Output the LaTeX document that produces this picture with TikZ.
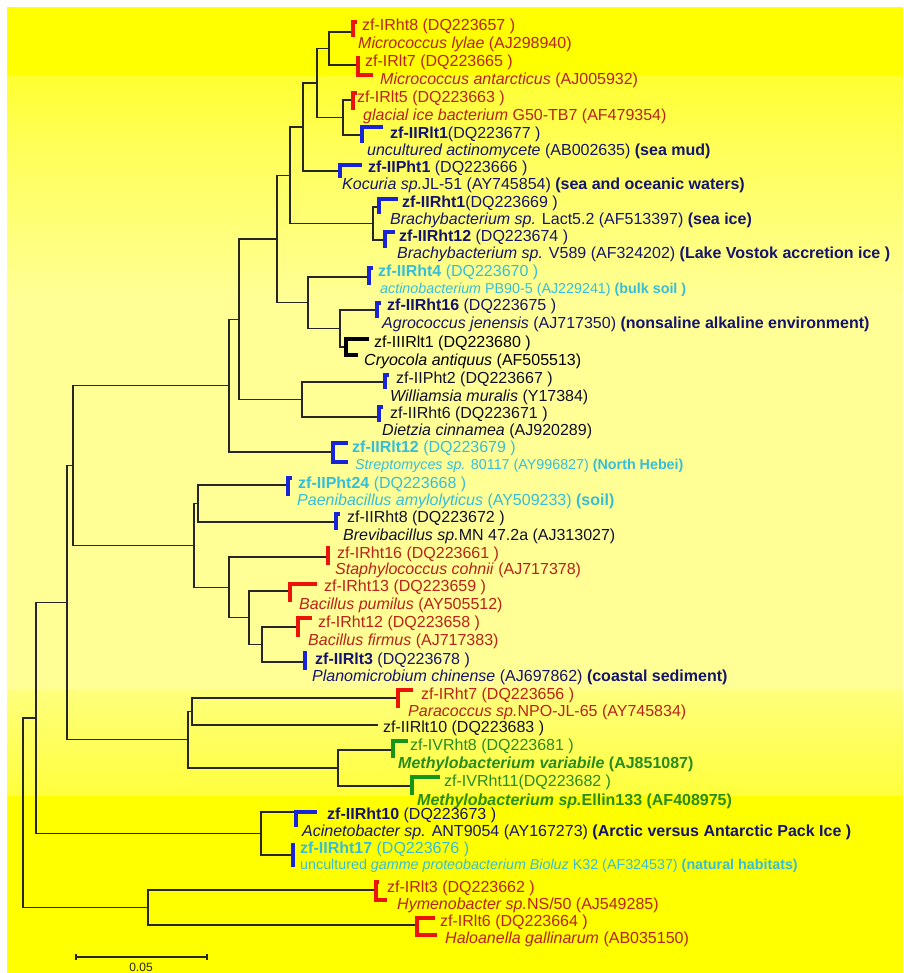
\documentclass[tikz,border=0pt]{standalone}
\usepackage{fontspec}
\setmainfont{Liberation Sans}
\definecolor{rtxt}{RGB}{185,35,25}
\definecolor{rbr}{RGB}{235,20,10}
\definecolor{btxt}{RGB}{20,20,110}
\definecolor{bbr}{RGB}{25,35,215}
\definecolor{ctxt}{RGB}{55,190,215}
\definecolor{gtxt}{RGB}{40,140,30}
\definecolor{gbr}{RGB}{20,150,20}
\definecolor{ktxt}{RGB}{15,15,45}
\definecolor{yA}{RGB}{255,255,0}
\definecolor{yB}{RGB}{255,255,50}
\definecolor{yC}{RGB}{255,255,90}
\definecolor{yD}{RGB}{255,255,150}
\definecolor{yE}{RGB}{255,255,125}
\definecolor{yF}{RGB}{255,255,60}
\begin{document}
\begin{tikzpicture}[x=1pt,y=-1pt,
  tree/.style={line width=1.3pt, draw=black!85},
  brk/.style={line width=3.6pt},
  lbl/.style={anchor=base west, inner sep=0pt, yshift=-5.5pt, font=\fontsize{16}{18}\selectfont},
  lbs/.style={lbl, font=\fontsize{14.3}{16}\selectfont}
]
\useasboundingbox (0,0) rectangle (903,973);
\fill[white] (0,0) rectangle (903,973);
\fill[yA] (7,7) rectangle (903,76);
\shade[top color=yB, bottom color=yC] (7,76) rectangle (903,150);
\shade[top color=yC, bottom color=yD] (7,150) rectangle (903,300);
\fill[yD] (7,300) rectangle (903,690);
\shade[top color=yE, bottom color=yF] (7,690) rectangle (903,796);
\fill[yA] (7,796) rectangle (903,973);

% leaf tips
\coordinate (t1) at (352,32);   \coordinate (t2) at (358,65);
\coordinate (t3) at (353,100);  \coordinate (t4) at (362,135);
\coordinate (t5) at (340,171);  \coordinate (t6) at (379,207);
\coordinate (t7) at (385,240);  \coordinate (t8) at (369,277);
\coordinate (t9) at (377,310);  \coordinate (t10) at (346,347);
\coordinate (t11) at (385,382); \coordinate (t12) at (379,417);
\coordinate (t13) at (333,452); \coordinate (t14) at (288,485);
\coordinate (t15) at (336,522); \coordinate (t16) at (328,557);
\coordinate (t17) at (290,591); \coordinate (t18) at (298,627);
\coordinate (t19) at (305,662); \coordinate (t20) at (398,698);
\coordinate (t21) at (378,725); \coordinate (t22) at (393,750);
\coordinate (t23) at (412,786); \coordinate (t24) at (296,812);
\coordinate (t25) at (293,855); \coordinate (t26) at (376,890);
\coordinate (t27) at (417,925);
% internal nodes
\coordinate (root) at (23,812.8);
\coordinate (nA) at (36,718.05);
\coordinate (nB) at (67,602.6);
\coordinate (nC) at (73,465.5);
\coordinate (nD) at (229,385.6);
\coordinate (nE) at (239,319.25);
\coordinate (nF) at (277,239);
\coordinate (nG) at (290,175.25);
\coordinate (nH) at (303,127);
\coordinate (nI) at (317,83);
\coordinate (nJ) at (329,48.5);
\coordinate (nK) at (343,117.5);
\coordinate (nL) at (373,223.5);
\coordinate (nM) at (308,302.75);
\coordinate (nN) at (340,328.5);
\coordinate (nO) at (302,399.5);
\coordinate (nP) at (194,545.4);
\coordinate (nQ) at (198,503.5);
\coordinate (nR) at (229,587.4);
\coordinate (nS) at (249,617.75);
\coordinate (nT) at (262,644.5);
\coordinate (nU) at (188,739.75);
\coordinate (nV) at (192,711.5);
\coordinate (nW) at (338,768);
\coordinate (nX) at (261,833.5);
\coordinate (nY) at (148,907.5);

\foreach \p/\c in {root/nA,root/nY,nA/nB,nA/nX,nB/nC,nB/nU,nC/nD,nC/nP,
  nD/nE,nD/t13,nE/nF,nE/nO,nF/nG,nF/nM,nG/nH,nG/nL,nH/nI,nH/t5,nI/nJ,nI/nK,
  nJ/t1,nJ/t2,nK/t3,nK/t4,nL/t6,nL/t7,nM/t8,nM/nN,nN/t9,nN/t10,nO/t11,nO/t12,
  nP/nQ,nP/nR,nQ/t14,nQ/t15,nR/t16,nR/nS,nS/t17,nS/nT,nT/t18,nT/t19,
  nU/nV,nU/nW,nV/t20,nV/t21,nW/t22,nW/t23,nX/t24,nX/t25,nY/t26,nY/t27}
  \draw[tree] (\p) |- (\c);

% tip brackets
\draw[brk,rbr] (357,22) -- (353,22) -- (353,37);
\draw[brk,rbr] (360,58) -- (358,58) -- (358,75) -- (373,75);
\draw[brk,rbr] (357,93) -- (353,93) -- (353,110);
\draw[brk,bbr] (383,127) -- (362,127) -- (362,143);
\draw[brk,bbr] (362,165) -- (340,165) -- (340,178);
\draw[brk,bbr] (398,199) -- (379,199) -- (379,214);
\draw[brk,bbr] (395,232) -- (385,232) -- (385,248);
\draw[brk,bbr] (373,268) -- (369,268) -- (369,285);
\draw[brk,bbr] (381,303) -- (377,303) -- (377,318);
\draw[brk,black] (369,339) -- (346,339) -- (346,355) -- (358,355);
\draw[brk,bbr] (389,375) -- (385,375) -- (385,389);
\draw[brk,bbr] (383,407) -- (379,407) -- (379,422);
\draw[brk,bbr] (348,443) -- (333,443) -- (333,462) -- (348,462);
\draw[brk,bbr] (292,478) -- (288,478) -- (288,496);
\draw[brk,bbr] (340,514) -- (336,514) -- (336,530);
\draw[brk,rbr] (330,548) -- (328,548) -- (328,565);
\draw[brk,rbr] (317,584) -- (290,584) -- (290,602);
\draw[brk,rbr] (312,618) -- (298,618) -- (298,637);
\draw[brk,bbr] (307,653) -- (305,653) -- (305,670);
\draw[brk,rbr] (413,690) -- (398,690) -- (398,708);
\draw[brk,gbr] (408,741) -- (393,741) -- (393,758);
\draw[brk,gbr] (440,777) -- (412,777) -- (412,795);
\draw[brk,bbr] (317,812) -- (296,812) -- (296,827);
\draw[brk,bbr] (295,845) -- (293,845) -- (293,867);
\draw[brk,rbr] (379,882) -- (376,882) -- (376,900) -- (387,900);
\draw[brk,rbr] (435,918) -- (417,918) -- (417,935) -- (437,935);

% labels
\node[lbl,text=rtxt] (l1a) at (362,25) {zf-IRht8 (DQ223657 )};
\node[lbl,text=rtxt] (l1b) at (358,43) {\textit{Micrococcus lylae} (AJ298940)};
\node[lbl,text=rtxt] (l2a) at (365,61) {zf-IRlt7 (DQ223665 )};
\node[lbl,text=rtxt] (l2b) at (380,79) {\textit{Micrococcus antarcticus} (AJ005932)};
\node[lbl,text=rtxt] (l3a) at (357,97) {zf-IRlt5 (DQ223663 )};
\node[lbl,text=rtxt] (l3b) at (363,115) {\textit{glacial ice bacterium} G50-TB7 (AF479354)};
\node[lbl,text=btxt] (l4a) at (390,133) {\textbf{zf-IIRlt1}(DQ223677 )};
\node[lbl,text=btxt] (l4b) at (367,150) {\textit{uncultured actinomycete} (AB002635) \textbf{(sea mud)}};
\node[lbl,text=btxt] (l5a) at (368,167) {\textbf{zf-IIPht1} (DQ223666 )};
\node[lbl,text=btxt] (l5b) at (342,184) {\textit{Kocuria sp.}JL-51 (AY745854) \textbf{(sea and oceanic waters)}};
\node[lbl,text=btxt] (l6a) at (402,202) {\textbf{zf-IIRht1}(DQ223669 )};
\node[lbl,text=btxt] (l6b) at (390,219) {\textit{Brachybacterium sp.} Lact5.2 (AF513397) \textbf{(sea ice)}};
\node[lbl,text=btxt] (l7a) at (399,236) {\textbf{zf-IIRht12} (DQ223674 )};
\node[lbl,text=btxt] (l7b) at (397,253) {\textit{Brachybacterium sp.} V589 (AF324202) \textbf{(Lake Vostok accretion ice )}};
\node[lbl,text=ctxt] (l8a) at (378,271) {\textbf{zf-IIRht4} (DQ223670 )};
\node[lbs,text=ctxt] (l8b) at (380,288) {\textit{actinobacterium} PB90-5 (AJ229241) \textbf{(bulk soil )}};
\node[lbl,text=btxt] (l9a) at (387,305) {\textbf{zf-IIRht16} (DQ223675 )};
\node[lbl,text=btxt] (l9b) at (382,323) {\textit{Agrococcus jenensis} (AJ717350) \textbf{(nonsaline alkaline environment)}};
\node[lbl,text=black] (l10a) at (374,342) {zf-IIIRlt1 (DQ223680 )};
\node[lbl,text=black] (l10b) at (364,360) {\textit{Cryocola antiquus} (AF505513)};
\node[lbl,text=ktxt] (l11a) at (396,378) {zf-IIPht2 (DQ223667 )};
\node[lbl,text=ktxt] (l11b) at (390,396) {\textit{Williamsia muralis} (Y17384)};
\node[lbl,text=ktxt] (l12a) at (390,413) {zf-IIRht6 (DQ223671 )};
\node[lbl,text=ktxt] (l12b) at (382,430) {\textit{Dietzia cinnamea} (AJ920289)};
\node[lbl,text=ctxt] (l13a) at (352,447) {\textbf{zf-IIRlt12} (DQ223679 )};
\node[lbs,text=ctxt] (l13b) at (355,464) {\textit{Streptomyces sp.} 80117 (AY996827) \textbf{(North Hebei)}};
\node[lbl,text=ctxt] (l14a) at (298,483) {\textbf{zf-IIPht24} (DQ223668 )};
\node[lbl,text=ctxt] (l14b) at (297,500) {\textit{Paenibacillus amylolyticus} (AY509233) \textbf{(soil)}};
\node[lbl,text=ktxt] (l15a) at (347,517) {zf-IIRht8 (DQ223672 )};
\node[lbl,text=ktxt] (l15b) at (343,535) {\textit{Brevibacillus sp.}MN 47.2a (AJ313027)};
\node[lbl,text=rtxt] (l16a) at (337,553) {zf-IRht16 (DQ223661 )};
\node[lbl,text=rtxt] (l16b) at (335,569) {\textit{Staphylococcus cohnii} (AJ717378)};
\node[lbl,text=rtxt] (l17a) at (324,586) {zf-IRht13 (DQ223659 )};
\node[lbl,text=rtxt] (l17b) at (299,604) {\textit{Bacillus pumilus} (AY505512)};
\node[lbl,text=rtxt] (l18a) at (318,622) {zf-IRht12 (DQ223658 )};
\node[lbl,text=rtxt] (l18b) at (308,640) {\textit{Bacillus firmus} (AJ717383)};
\node[lbl,text=btxt] (l19a) at (315,659) {\textbf{zf-IIRlt3} (DQ223678 )};
\node[lbl,text=btxt] (l19b) at (312,676) {\textit{Planomicrobium chinense} (AJ697862) \textbf{(coastal sediment)}};
\node[lbl,text=rtxt] (l20a) at (421,694) {zf-IRht7 (DQ223656 )};
\node[lbl,text=rtxt] (l20b) at (408,711) {\textit{Paracoccus sp.}NPO-JL-65 (AY745834)};
\node[lbl,text=ktxt] (l21) at (383,727) {zf-IIRlt10 (DQ223683 )};
\node[lbl,text=gtxt] (l22a) at (410,745) {zf-IVRht8 (DQ223681 )};
\node[lbl,text=gtxt] (l22b) at (398,763) {\textbf{\textit{Methylobacterium variabile} (AJ851087)}};
\node[lbl,text=gtxt] (l23a) at (444,781) {zf-IVRht11(DQ223682 )};
\node[lbl,text=gtxt] (l23b) at (417,800) {\textbf{\textit{Methylobacterium sp.}Ellin133 (AF408975)}};
\node[lbl,text=btxt] (l24a) at (327,814) {\textbf{zf-IIRht10} (DQ223673 )};
\node[lbl,text=btxt] (l24b) at (302,831) {\textit{Acinetobacter sp.} ANT9054 (AY167273) \textbf{(Arctic versus Antarctic Pack Ice )}};
\node[lbl,text=ctxt] (l25a) at (300,848) {\textbf{zf-IIRht17} (DQ223676 )};
\node[lbs,text=ctxt] (l25b) at (300,864) {uncultured \textit{gamme proteobacterium Bioluz} K32 (AF324537) \textbf{(natural habitats)}};
\node[lbl,text=rtxt] (l26a) at (387,887) {zf-IRlt3 (DQ223662 )};
\node[lbl,text=rtxt] (l26b) at (397,904) {\textit{Hymenobacter sp.}NS/50 (AJ549285)};
\node[lbl,text=rtxt] (l27a) at (440,921) {zf-IRlt6 (DQ223664 )};
\node[lbl,text=rtxt] (l27b) at (445,938) {\textit{Haloanella gallinarum} (AB035150)};

% scale bar
\coordinate (sb1) at (76,957);
\coordinate (sb2) at (207,957);
\draw[tree,line width=1.2pt] (sb1) -- (sb2);
\draw[tree,line width=1.2pt] ([yshift=3pt]sb1) -- ([yshift=-3pt]sb1);
\draw[tree,line width=1.2pt] ([yshift=3pt]sb2) -- ([yshift=-3pt]sb2);
\node[inner sep=0pt, font=\fontsize{12}{14}\selectfont, text=black!85] (sbl) at (141,967) {0.05};
\end{tikzpicture}
\end{document}
